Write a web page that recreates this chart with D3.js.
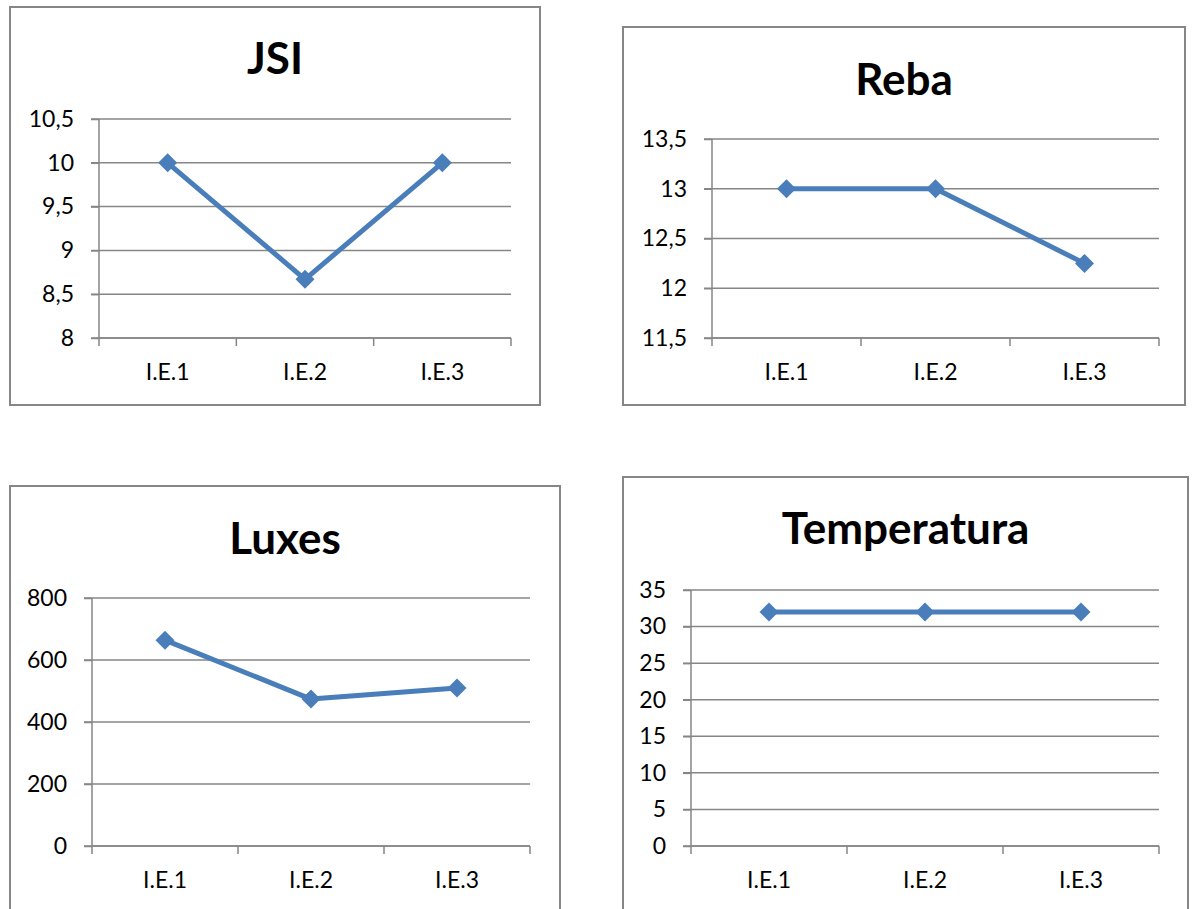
<!DOCTYPE html>
<html><head><meta charset="utf-8">
<script src="https://cdn.jsdelivr.net/npm/d3@7"></script>
<style>
html,body{margin:0;padding:0;background:#fff;}
svg{display:block;}
text{font-family:Lato,"Open Sans",sans-serif;fill:#000;}
</style></head>
<body>
<script>
// ---- data ----
const categories = ["I.E.1", "I.E.2", "I.E.3"];
const titles = ["JSI", "Reba", "Luxes", "Temperatura"];
const jsiValues = [10, 8.67, 10];
const rebaValues = [13, 13, 12.25];
const luxesValues = [664, 474, 510];
const temperaturaValues = [32, 32, 32];
const jsiTicks = [8, 8.5, 9, 9.5, 10, 10.5];
const rebaTicks = [11.5, 12, 12.5, 13, 13.5];
const luxesTicks = [0, 200, 400, 600, 800];
const temperaturaTicks = [0, 5, 10, 15, 20, 25, 30, 35];

// ---- layout ----
const W = 1193, H = 909;
const panels = [
  {title: titles[0], values: jsiValues, ticks: jsiTicks,
   frame: [10, 7, 540, 405], plot: [99, 119, 511, 338], titleY: 74},
  {title: titles[1], values: rebaValues, ticks: rebaTicks,
   frame: [623, 27, 1185, 405], plot: [712, 139, 1159, 338], titleY: 95},
  {title: titles[2], values: luxesValues, ticks: luxesTicks,
   frame: [10, 486, 560, 915], plot: [92, 598, 530, 846], titleY: 554},
  {title: titles[3], values: temperaturaValues, ticks: temperaturaTicks,
   frame: [623, 477, 1188, 915], plot: [691, 590, 1159, 846], titleY: 544}
];

const svg = d3.select("body").append("svg").attr("width", W).attr("height", H);
const fmt = d => String(d).replace(".", ",");
const gridColor = "#868686";
const lineColor = "#4a7ebb";
const tickFont = "23px";

panels.forEach(p => {
  const [fx0, fy0, fx1, fy1] = p.frame;
  const [px0, py0, px1, py1] = p.plot;
  const g = svg.append("g");

  g.append("rect").attr("x", fx0).attr("y", fy0)
    .attr("width", fx1 - fx0).attr("height", fy1 - fy0)
    .attr("fill", "#fff").attr("stroke", gridColor).attr("stroke-width", 2);

  g.append("text").attr("x", (fx0 + fx1) / 2).attr("y", p.titleY)
    .attr("text-anchor", "middle").style("font-size", "44px").style("font-weight", "bold")
    .text(p.title);

  const x = d3.scaleBand().domain(categories).range([px0, px1]);
  const y = d3.scaleLinear().domain(d3.extent(p.ticks)).range([py1, py0]);

  // gridlines
  g.append("g").selectAll("line").data(p.ticks).join("line")
    .attr("x1", px0 - 8).attr("x2", px1)
    .attr("y1", d => y(d)).attr("y2", d => y(d))
    .attr("stroke", gridColor).attr("stroke-width", 1.5);

  // y axis
  const ya = g.append("g").attr("transform", `translate(${px0},0)`)
    .call(d3.axisLeft(y).tickValues(p.ticks).tickFormat(fmt).tickSize(8).tickPadding(17));
  ya.select(".domain").attr("stroke", gridColor).attr("stroke-width", 1.5)
    .attr("d", `M0,${py0}V${py1}`);
  ya.selectAll(".tick line").attr("stroke", gridColor).attr("stroke-width", 1.5);
  ya.selectAll(".tick text").style("font-size", tickFont).style("font-family", "Lato,'Open Sans',sans-serif").attr("fill", "#000");

  // x axis
  const boundaries = categories.map(c => x(c)).concat([px1]);
  const xa = g.append("g").attr("transform", `translate(0,${py1})`)
    .call(d3.axisBottom(x).tickSize(0).tickPadding(26));
  xa.select(".domain").attr("stroke", gridColor).attr("stroke-width", 1.5)
    .attr("d", `M${px0},0H${px1}`);
  xa.selectAll(".tick text").style("font-size", tickFont).style("font-family", "Lato,'Open Sans',sans-serif").attr("fill", "#000");
  g.append("g").selectAll("line").data(boundaries).join("line")
    .attr("x1", d => d).attr("x2", d => d).attr("y1", py1).attr("y2", py1 + 8)
    .attr("stroke", gridColor).attr("stroke-width", 1.5);

  // series line
  const cx = c => x(c) + x.bandwidth() / 2;
  const line = d3.line().x((d, i) => cx(categories[i])).y(d => y(d));
  g.append("path").datum(p.values).attr("d", line)
    .attr("fill", "none").attr("stroke", lineColor).attr("stroke-width", 5)
    .attr("stroke-linejoin", "round");

  g.append("g").selectAll("path").data(p.values).join("path")
    .attr("transform", (d, i) => `translate(${cx(categories[i])},${y(d)})`)
    .attr("d", "M0,-9.5L9.5,0L0,9.5L-9.5,0Z")
    .attr("fill", lineColor);
});
</script>
</body></html>
